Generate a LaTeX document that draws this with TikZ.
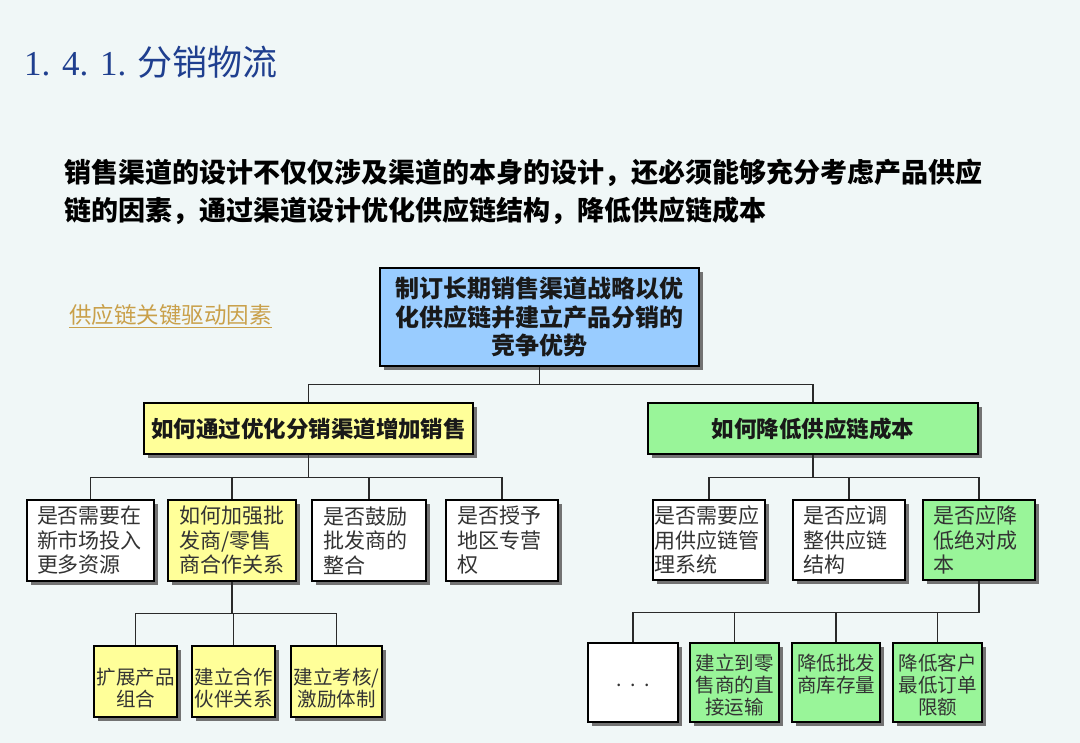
\documentclass[tikz,border=0pt]{standalone}
\usepackage{fontspec}
\setmainfont{Liberation Serif}
\newfontfamily\cjk{Noto Sans CJK SC}
\usetikzlibrary{shadows}
\definecolor{bg}{HTML}{F0F7F7}
\definecolor{cblue}{HTML}{99CCFF}
\definecolor{cyellow}{HTML}{FFFF99}
\definecolor{cgreen}{HTML}{99F599}
\definecolor{navy}{HTML}{1F3F8F}
\definecolor{gold}{HTML}{C9A04A}
\definecolor{linec}{HTML}{2A2A2A}
\tikzset{
  bx/.style={draw=black, line width=1.3pt, inner sep=0pt,
    drop shadow={shadow xshift=4pt, shadow yshift=-4pt, fill=black!55, opacity=1}},
  conn/.style={draw=linec, line width=1.2pt},
  t3/.style={font=\cjk\fontsize{21}{24.5}\selectfont, text=black!80, align=left},
  l3/.style={bx, minimum height=81pt},
  l4/.style={bx, minimum height=71pt},
  l4r/.style={bx, minimum height=79pt},
  t4/.style={font=\cjk\fontsize{19.5}{22}\selectfont, text=black!80, align=center, inner sep=0pt},
  hd/.style={font=\cjk\bfseries\fontsize{22.5}{26}\selectfont, text=black!90},
}
\begin{document}
\begin{tikzpicture}[x=1pt, y=-1pt]
\fill[bg] (0,0) rectangle (1080,743);
\useasboundingbox (0,0) rectangle (1080,743);

% title
\node[anchor=west, inner sep=0pt, text=navy] (title) at (24,62)
  {\fontsize{35}{40}\selectfont 1. 4. 1. {\cjk 分销物流}};

% intro
\node[anchor=west, inner sep=0pt, font=\cjk\bfseries\fontsize{27}{32}\selectfont, text=black] (intro1) at (64,173)
  {销售渠道的设计不仅仅涉及渠道的本身的设计，还必须能够充分考虑产品供应};
\node[anchor=west, inner sep=0pt, font=\cjk\bfseries\fontsize{27}{32}\selectfont, text=black] (intro2) at (64,211)
  {链的因素，通过渠道设计优化供应链结构，降低供应链成本};

% link
\node[anchor=west, inner sep=0pt, font=\cjk\fontsize{22.5}{26}\selectfont, text=gold] (lnk) at (69,315)
  {供应链关键驱动因素};
\draw[gold, line width=1.2pt] ([yshift=-2pt]lnk.south west) -- ([yshift=-2pt]lnk.south east);

% top
\node[bx, fill=cblue, minimum width=319pt, minimum height=98pt, align=center,
  font=\cjk\bfseries\fontsize{24}{28.5}\selectfont, text=black!90] (top) at (539.5,317)
  {制订长期销售渠道战略以优\\化供应链并建立产品分销的\\竞争优势};

% level 2
\node[bx, fill=cyellow, minimum width=329pt, minimum height=51pt, hd] (la) at (308.5,428.5) {如何通过优化分销渠道增加销售};
\node[bx, fill=cgreen, minimum width=330pt, minimum height=51pt, hd] (lb) at (813,428.5) {如何降低供应链成本};

% level 3 left
\node[l3, fill=white, t3, text width=107pt, inner xsep=10pt] (a1) at (90.5,540.5) {是否需要在\\新市场投入\\更多资源};
\node[l3, fill=cyellow, t3, text width=106pt, inner xsep=11pt] (a2) at (232,540.5) {如何加强批\\发商/零售\\商合作关系};
\node[l3, fill=white, t3, text width=92pt, inner xsep=11pt] (a3) at (369,540.5) {是否鼓励\\批发商的\\整合};
\node[l3, fill=white, t3, text width=90pt, inner xsep=11pt] (a4) at (502,540.5) {是否授予\\地区专营\\权};

% level 3 right
\node[l3, minimum height=80pt, fill=white, t3, text width=110pt, inner xsep=1pt] (b1) at (709,540) {是否需要应\\用供应链管\\理系统};
\node[l3, minimum height=80pt, fill=white, t3, text width=92pt, inner xsep=10pt] (b2) at (849,540) {是否应调\\整供应链\\结构};
\node[l3, minimum height=80pt, fill=cgreen, t3, text width=92pt, inner xsep=10pt] (b3) at (979,540) {是否应降\\低绝对成\\本};

% level 4 left
\node[l4, fill=cyellow, minimum width=83pt] (c1) at (135.5,681.5) {};
\node[l4, fill=cyellow, minimum width=83pt] (c2) at (233.5,681.5) {};
\node[l4, fill=cyellow, minimum width=91pt] (c3) at (336.5,681.5) {};
\node[t4] (c1t) at ([yshift=-7pt]c1.center) {扩展产品\\组合};
\node[t4] (c2t) at ([yshift=-7pt]c2.center) {建立合作\\伙伴关系};
\node[t4] (c3t) at ([yshift=-7pt]c3.center) {建立考核/\\激励体制};

% level 4 right
\node[l4r, fill=white, minimum width=90pt] (d1) at (633,682.5) {};
\node[l4r, fill=cgreen, minimum width=89pt] (d2) at (734.5,682.5) {};
\node[l4r, fill=cgreen, minimum width=88pt] (d3) at (836,682.5) {};
\node[l4r, fill=cgreen, minimum width=89pt] (d4) at (937.5,682.5) {};
\node[t4] (d1t) at ([yshift=-3pt]d1.center) {.\ \ .\ \ .};
\node[t4] (d2t) at ([yshift=-2.5pt]d2.center) {建立到零\\售商的直\\接运输};
\node[t4] (d3t) at ([yshift=8.5pt]d3.center) {降低批发\\商库存量};
\node[t4] (d4t) at ([yshift=-2.5pt]d4.center) {降低客户\\最低订单\\限额};

% connectors
\draw[conn] (top.south) -- ++(0,18) -| (la.north);
\draw[conn] (top.south) -- ++(0,18) -| (lb.north);
\foreach \n in {a1,a2,a3,a4} \draw[conn] (la.south) -- ++(0,23) -| (\n.north);
\foreach \n in {b1,b2,b3} \draw[conn] (lb.south) -- ++(0,23) -| (\n.north);
\foreach \n in {c1,c2,c3} \draw[conn] (a2.south) -- ++(0,32) -| (\n.north);
\foreach \n in {d1,d2,d3,d4} \draw[conn] (b3.south) -- ++(0,32) -| (\n.north);
\end{tikzpicture}
\end{document}
